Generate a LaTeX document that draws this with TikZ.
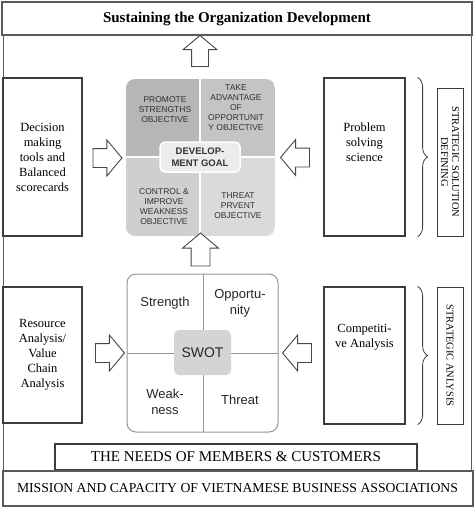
\documentclass[tikz,border=0pt]{standalone}
\usepackage{fontspec}
\setmainfont{Liberation Serif}
\setsansfont{Liberation Sans}
\usetikzlibrary{shapes.arrows}
\usetikzlibrary{decorations.pathreplacing}
\usetikzlibrary{positioning}

\definecolor{linegray}{RGB}{60,60,60}
\definecolor{framegray}{RGB}{90,90,90}
\definecolor{arrowgray}{RGB}{70,70,70}
\definecolor{quadA}{RGB}{182,182,182}
\definecolor{quadB}{RGB}{196,196,196}
\definecolor{quadC}{RGB}{207,207,207}
\definecolor{quadD}{RGB}{218,218,218}
\definecolor{goalfill}{RGB}{236,236,236}
\definecolor{quadtext}{RGB}{50,50,50}
\definecolor{swotline}{RGB}{150,150,150}
\definecolor{swotfill}{RGB}{212,212,212}

\begin{document}
\begin{tikzpicture}[x=1pt, y=-1pt,
    box/.style={draw=linegray, line width=1.2pt, fill=white, align=center, inner sep=2pt,
        font=\fontsize{12.5}{15}\selectfont},
    blockarrow/.style={single arrow, draw=arrowgray, fill=white, line width=0.9pt,
        inner sep=0pt, text height=9pt, text depth=9pt, text width=0pt,
        single arrow head extend=8.5pt, single arrow tip angle=100, minimum height=29pt},
    quad/.style={font=\sffamily\fontsize{8.5}{10}\selectfont, text=quadtext, align=center},
    swot/.style={font=\sffamily\fontsize{13}{16}\selectfont, text=black!85, align=center},
    vlabel/.style={draw=linegray, line width=1pt, fill=white, align=center, rotate=-90,
        inner sep=1pt, minimum height=26pt, font=\fontsize{10.4}{11}\selectfont},
    bracket/.style={decorate, decoration={brace, amplitude=10pt}, draw=linegray, line width=0.8pt}
]
        \useasboundingbox (0,0) rectangle (474,507);

        % outer frame
        \draw[framegray, line width=1pt] (3,35) rectangle (471,470);

        % title
        \node[box, draw=framegray, line width=2pt, minimum width=470, minimum height=33,
            font=\bfseries\fontsize{15}{17}\selectfont] (title) at (237,18.5)
            {Sustaining the Organization Development};

        % development goal quadrants
        \begin{scope}
            \clip[rounded corners=9] (126,79) rectangle (275,236);
            \fill[quadA] (126,79) rectangle (200,157);
            \fill[quadB] (200,79) rectangle (275,157);
            \fill[quadC] (126,157) rectangle (200,236);
            \fill[quadD] (200,157) rectangle (275,236);
        \end{scope}
        \draw[white, line width=2pt] (200,79) -- (200,236) (126,157) -- (275,157);
        \node[quad] (promote) at (165,110) {PROMOTE\\STRENGTHS\\OBJECTIVE};
        \node[quad] (advantage) at (236,108) {TAKE\\ADVANTAGE\\OF\\OPPORTUNIT\\Y OBJECTIVE};
        \node[quad] (control) at (164,207) {CONTROL \&\\IMPROVE\\WEAKNESS\\OBJECTIVE};
        \node[quad] (threatobj) at (238,206) {THREAT\\PRVENT\\OBJECTIVE};
        \node[rounded corners=5, fill=goalfill, draw=white, line width=1.5pt, minimum width=80,
            minimum height=30, inner sep=1pt, align=center, text=black!80,
            font=\sffamily\bfseries\fontsize{9.5}{12}\selectfont] (goal) at (200,157) {DEVELOP-\\MENT GOAL};

        % SWOT
        \draw[swotline, line width=1pt, rounded corners=9] (127,274) rectangle (278,432);
        \draw[swotline, line width=1pt] (203,274) -- (203,432) (127,353) -- (278,353);
        \node[swot] (strength) at (165,303) {Strength};
        \node[swot] (opport) at (240,303) {Opportu-\\nity};
        \node[swot] (weak) at (165,402) {Weak-\\ness};
        \node[swot] (threat) at (240,400) {Threat};
        \node[swot, fill=swotfill, rounded corners=5, minimum width=57, minimum height=45,
            font=\sffamily\fontsize{14}{16}\selectfont] (swotc) at (202.5,352.5) {SWOT};

        % left boxes
        \node[box, minimum width=79, minimum height=158] (decision) at (42.5,157)
            {Decision\\making\\tools and\\Balanced\\scorecards};
        \node[box, minimum width=79, minimum height=136] (resource) at (42.5,355)
            {Resource\\Analysis/\\Value\\Chain\\Analysis};

        % right boxes
        \node[box, minimum width=81, minimum height=158] (problem) at (364.5,157) {};
        \node[box, draw=none, fill=none] (problemtxt) at ([yshift=15pt]problem.center)
            {Problem\\solving\\science};
        \node[box, minimum width=81, minimum height=137] (compet) at (364.5,355.5) {};
        \node[box, draw=none, fill=none] (competxt) at ([yshift=18pt]compet.center)
            {Competiti-\\ve Analysis};

        % braces and side labels
        \draw[bracket] (problem.north east) ++(12,0) coordinate (b1) -- (b1 |- problem.south);
        \draw[bracket] (compet.north east) ++(12,0) coordinate (b2) -- (b2 |- compet.south);
        \node[vlabel, minimum width=148] (defining) at (450,162)
            {STRATEGIC SOLUTION\\DEFINING};
        \node[vlabel, minimum width=137] (anlysis) at (450,355.5) {STRATEGIC ANLYSIS};

        % block arrows
        \node[blockarrow, rotate=90, text height=8pt, text depth=8pt, minimum height=31pt] (uptop) at (200,54.5) {};
        \node[blockarrow, rotate=90, minimum height=33pt] (upmid) at (200.5,253.5) {};
        \node[blockarrow] (rdec) at (103.5,158) {};
        \node[blockarrow] (rres) at (106,353) {};
        \node[blockarrow, rotate=180] (lprob) at (299,157.5) {};
        \node[blockarrow, rotate=180] (lcomp) at (301,353) {};

        % bottom bars
        \node[box, line width=1.5pt, minimum width=362, minimum height=26,
            font=\fontsize{15}{17}\selectfont] (needs) at (236,457)
            {THE NEEDS OF MEMBERS \& CUSTOMERS};
        \node[box, draw=framegray, line width=2pt, minimum width=470, minimum height=35,
            font=\fontsize{13.7}{16}\selectfont] (mission) at (237.5,488)
            {MISSION AND CAPACITY OF VIETNAMESE BUSINESS ASSOCIATIONS};

\end{tikzpicture}
\end{document}
